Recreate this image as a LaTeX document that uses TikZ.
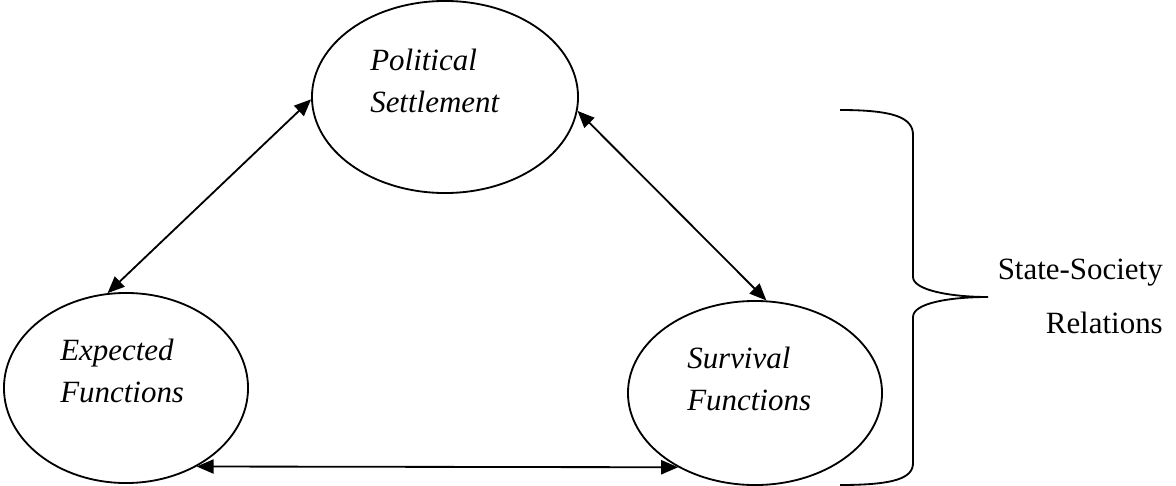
\documentclass[tikz,border=0pt]{standalone}
\usepackage{fontspec}
\setmainfont{Liberation Serif}
\usetikzlibrary{arrows.meta, shapes.geometric}

\begin{document}
\begin{tikzpicture}[x=0.025cm, y=-0.025cm,
	every node/.style={font=\fontsize{22}{29.2}\selectfont},
	bubble/.style={ellipse, draw=black, line width=1.3pt, inner sep=0pt},
	intext/.style={align=left, inner sep=0pt, font=\fontsize{22}{29.2}\selectfont\itshape},
	link/.style={{Triangle[length=12pt,width=10pt]}-{Triangle[length=12pt,width=10pt]}, line width=1.3pt}]
	\useasboundingbox (0,0) rectangle (1176,486);
	
	\node[bubble, minimum width=6.65cm, minimum height=4.8cm] (political) at (445,97){};
	\node[bubble, minimum width=6.1cm, minimum height=4.75cm] (expected) at (126,388){};
	\node[bubble, minimum width=6.35cm, minimum height=4.6cm] (survival) at (755,393){};
	
	\node[intext, anchor=base west] (politicaltext) at (370,112){Political\\Settlement};
	\node[intext, anchor=base west] (expectedtext) at (60,402){Expected\\Functions};
	\node[intext, anchor=base west] (survivaltext) at (687,410){Survival\\Functions};
	
	\draw[link] (political.181) -- (expected.101);
	\draw[link] (political.-6) -- (survival.83);
	\draw[link] (expected.-48) -- (survival.-136);
	
	% brace
	\draw[line width=1.3pt] (840,110) .. controls (895,110) and (913,118) .. (913,135)
		-- (913,277) .. controls (913,290) and (950,297) .. (988,297)
		.. controls (950,297) and (913,303) .. (913,317)
		-- (913,463) .. controls (913,478) and (895,485) .. (840,485);
	
	\node[align=right, inner sep=0pt, anchor=base east, font=\fontsize{22}{37.7}\selectfont] (relations) at (1163,333){State-Society\\Relations};
\end{tikzpicture}
\end{document}
